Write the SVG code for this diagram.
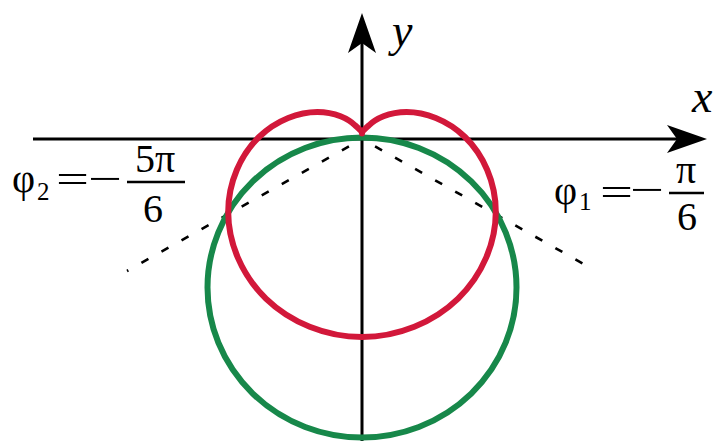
<svg xmlns="http://www.w3.org/2000/svg" width="720" height="441" viewBox="0 0 720 441">
<style>
.ax{stroke:#000;stroke-width:3;fill:none}
.dash{stroke:#000;stroke-width:2.6;fill:none;stroke-dasharray:8 15;stroke-dashoffset:8}
.red{stroke:#d2183a;stroke-width:6;fill:none;stroke-linejoin:round}
.green{stroke:#17884a;stroke-width:6;fill:none}
.m{font-family:'Liberation Serif','DejaVu Serif',serif;font-size:40px;fill:#000}
.s{font-family:'Liberation Serif','DejaVu Serif',serif;font-size:25px;fill:#000}
.v{font-family:'Liberation Serif','DejaVu Serif',serif;font-style:italic;font-size:46px;fill:#000}
.bar{stroke:#000;stroke-width:2.5}
</style>
<defs>
<marker id="arr" markerUnits="userSpaceOnUse" viewBox="0 0 40 28" refX="10" refY="14" markerWidth="40" markerHeight="28" orient="auto">
<path d="M0,0 L40,14 L0,28 L10,14 Z" fill="#000"/>
</marker>
</defs>
<rect width="720" height="441" fill="#fff"/>
<g id="axes">
<line class="ax" x1="33" y1="139" x2="677" y2="139" marker-end="url(#arr)"/>
<line class="ax" x1="362" y1="441" x2="362" y2="43" marker-end="url(#arr)"/>
</g>
<g id="rays">
<line class="dash" x1="362" y1="139" x2="127" y2="271"/>
<line class="dash" x1="362" y1="139" x2="589" y2="267"/>
</g>
<g id="curves">
<ellipse id="circle" class="green" cx="362" cy="287.5" rx="154.5" ry="150"/>
<path id="cardioid" class="red" d="M362,133.5 C362,132 360,129.5 355.10,125.40 C348.52,119.01 335.38,112 317.40,112 C299.42,112 276.98,119.55 259,137 C241.02,154.45 228.20,181.77 228.20,212 C228.20,242.23 241.34,274.76 265.90,298.60 C290.46,322.44 326.05,337 362,337 C397.95,337 433.54,322.44 458.10,298.60 C482.66,274.76 495.80,242.23 495.80,212 C495.80,181.77 482.98,154.45 465,137 C447.02,119.55 424.58,112 406.60,112 C388.62,112 375.48,119.01 368.90,125.40 C364,129.5 362,132 362,133.5 Z"/>
</g>
<g id="labels">
<text class="v" x="392" y="46">y</text>
<text class="v" x="692" y="112">x</text>
<g id="phi2">
<text class="m" x="12" y="192">φ</text>
<text class="s" x="37" y="200">2</text>
<text class="m" x="56" y="193" textLength="33" lengthAdjust="spacingAndGlyphs">=</text>
<text class="m" x="88" y="192" textLength="34" lengthAdjust="spacingAndGlyphs">−</text>
<line class="bar" x1="127" y1="182" x2="185" y2="182"/>
<text class="m" x="155" y="172" text-anchor="middle">5π</text>
<text class="m" x="153" y="222" text-anchor="middle">6</text>
</g>
<g id="phi1">
<text class="m" x="554" y="204">φ</text>
<text class="s" x="579" y="210">1</text>
<text class="m" x="600" y="206" textLength="33" lengthAdjust="spacingAndGlyphs">=</text>
<text class="m" x="630" y="203" textLength="34" lengthAdjust="spacingAndGlyphs">−</text>
<line class="bar" x1="669" y1="193" x2="704" y2="193"/>
<text class="m" x="686" y="183" text-anchor="middle">π</text>
<text class="m" x="687" y="230" text-anchor="middle">6</text>
</g>
</g>
</svg>
